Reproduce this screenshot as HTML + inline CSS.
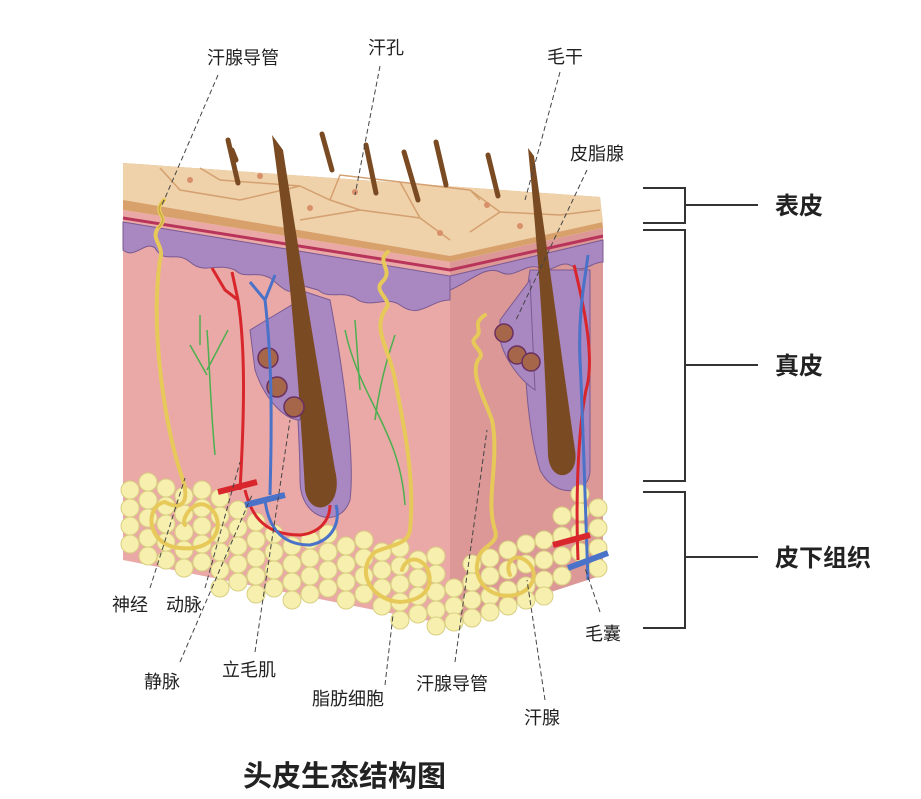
<!DOCTYPE html>
<html><head><meta charset="utf-8">
<style>
html,body{margin:0;padding:0;background:#fff;}
svg{display:block;}
text{font-family:"Liberation Sans","Noto Sans CJK SC",sans-serif;fill:#222;}
</style></head><body>
<svg width="921" height="799" viewBox="0 0 921 799" xmlns="http://www.w3.org/2000/svg">
<!-- dermis front & side -->
<polygon points="123,210 450,262 450,625 123,560" fill="#eaa9a6"/>
<polygon points="450,262 603,228 603,575 450,625" fill="#dc9896"/>
<!-- purple basal layer front -->
<path d="M123,222 L450,276 L450,300 C430,300 420,320 400,305 C385,295 370,310 355,298 C340,290 330,300 318,290 L300,285 C290,300 280,285 270,278 C255,270 245,280 235,270 C215,262 205,275 190,262 C175,250 165,265 155,248 C145,240 135,260 123,250 Z" fill="#a987c0" stroke="#7a5a92" stroke-width="1"/>
<path d="M450,276 L603,240 L603,262 C590,262 585,275 570,265 C560,260 550,275 540,268 C525,262 515,280 500,272 C485,265 470,282 450,290 Z" fill="#a987c0" stroke="#7a5a92" stroke-width="1"/>
<path d="M123,218 L450,270 L603,236" fill="none" stroke="#b8345a" stroke-width="3"/>
<!-- top epidermis -->
<polygon points="123,163 600,197 603,228 450,262 123,210" fill="#d8a16c"/>
<polygon points="123,163 600,197 603,222 450,256 123,200" fill="#efd1aa"/>
<g stroke="#d4a070" stroke-width="1.5" fill="none">
<path d="M160,168 L180,190 L240,200 L300,186 L330,200 L360,210 L420,218 L450,240"/>
<path d="M200,168 L220,180 L300,186 M330,200 L340,175 L400,182 L420,218 M400,182 L470,190 L500,212 L560,215 L600,210 M470,190 L480,200 M300,220 L360,210 M500,212 L470,232"/>
</g>
<g fill="#d8906a"><circle cx="190" cy="180" r="3"/><circle cx="355" cy="192" r="3"/><circle cx="310" cy="208" r="3"/><circle cx="440" cy="233" r="3"/><circle cx="520" cy="226" r="3"/><circle cx="487" cy="205" r="3"/><circle cx="260" cy="176" r="3"/></g>
<!-- follicle sheaths -->
<path d="M300,290 C290,340 300,420 300,480 C300,520 340,530 350,500 C355,460 345,380 330,300 Z" fill="#a987c0" stroke="#7a5a92"/>
<path d="M250,330 L300,300 L300,420 C285,420 265,400 255,370 Z" fill="#a987c0" stroke="#7a5a92"/>
<path d="M530,270 C520,330 525,420 540,470 C555,500 590,495 590,470 L590,270 Z" fill="#a987c0" stroke="#7a5a92"/>
<path d="M500,320 L530,280 L535,390 C520,380 505,360 500,340 Z" fill="#a987c0" stroke="#7a5a92"/>
<!-- fat -->
<g fill="#f6efae" stroke="#d9cf82" stroke-width="1">
<circle cx="130" cy="490" r="9"/><circle cx="148" cy="482" r="9"/><circle cx="166" cy="488" r="9"/><circle cx="130" cy="508" r="9"/><circle cx="148" cy="500" r="9"/><circle cx="166" cy="506" r="9"/><circle cx="184" cy="496" r="9"/><circle cx="202" cy="490" r="9"/><circle cx="220" cy="498" r="9"/><circle cx="130" cy="526" r="9"/><circle cx="148" cy="518" r="9"/><circle cx="166" cy="524" r="9"/><circle cx="184" cy="514" r="9"/><circle cx="202" cy="508" r="9"/><circle cx="220" cy="516" r="9"/><circle cx="238" cy="510" r="9"/><circle cx="130" cy="544" r="9"/><circle cx="148" cy="538" r="9"/><circle cx="166" cy="542" r="9"/><circle cx="184" cy="532" r="9"/><circle cx="202" cy="526" r="9"/><circle cx="220" cy="534" r="9"/><circle cx="238" cy="528" r="9"/><circle cx="256" cy="522" r="9"/><circle cx="148" cy="556" r="9"/><circle cx="166" cy="560" r="9"/><circle cx="184" cy="550" r="9"/><circle cx="202" cy="544" r="9"/><circle cx="220" cy="552" r="9"/><circle cx="238" cy="546" r="9"/><circle cx="256" cy="540" r="9"/><circle cx="274" cy="534" r="9"/><circle cx="184" cy="568" r="9"/><circle cx="202" cy="562" r="9"/><circle cx="220" cy="570" r="9"/><circle cx="238" cy="564" r="9"/><circle cx="256" cy="558" r="9"/><circle cx="274" cy="552" r="9"/><circle cx="292" cy="546" r="9"/><circle cx="310" cy="540" r="9"/><circle cx="328" cy="534" r="9"/><circle cx="220" cy="588" r="9"/><circle cx="238" cy="582" r="9"/><circle cx="256" cy="576" r="9"/><circle cx="274" cy="570" r="9"/><circle cx="292" cy="564" r="9"/><circle cx="310" cy="558" r="9"/><circle cx="328" cy="552" r="9"/><circle cx="346" cy="546" r="9"/><circle cx="364" cy="540" r="9"/><circle cx="256" cy="594" r="9"/><circle cx="274" cy="588" r="9"/><circle cx="292" cy="582" r="9"/><circle cx="310" cy="576" r="9"/><circle cx="328" cy="570" r="9"/><circle cx="346" cy="564" r="9"/><circle cx="364" cy="558" r="9"/><circle cx="382" cy="552" r="9"/><circle cx="400" cy="548" r="9"/><circle cx="292" cy="600" r="9"/><circle cx="310" cy="594" r="9"/><circle cx="328" cy="588" r="9"/><circle cx="346" cy="582" r="9"/><circle cx="364" cy="576" r="9"/><circle cx="382" cy="570" r="9"/><circle cx="400" cy="566" r="9"/><circle cx="418" cy="560" r="9"/><circle cx="436" cy="556" r="9"/><circle cx="346" cy="600" r="9"/><circle cx="364" cy="594" r="9"/><circle cx="382" cy="588" r="9"/><circle cx="400" cy="584" r="9"/><circle cx="418" cy="578" r="9"/><circle cx="436" cy="574" r="9"/><circle cx="382" cy="606" r="9"/><circle cx="400" cy="602" r="9"/><circle cx="418" cy="596" r="9"/><circle cx="436" cy="592" r="9"/><circle cx="454" cy="588" r="9"/><circle cx="400" cy="620" r="9"/><circle cx="418" cy="614" r="9"/><circle cx="436" cy="610" r="9"/><circle cx="454" cy="606" r="9"/><circle cx="436" cy="626" r="9"/><circle cx="454" cy="622" r="9"/><circle cx="472" cy="600" r="9"/><circle cx="490" cy="596" r="9"/><circle cx="508" cy="590" r="9"/><circle cx="526" cy="586" r="9"/><circle cx="544" cy="580" r="9"/><circle cx="472" cy="582" r="9"/><circle cx="490" cy="576" r="9"/><circle cx="508" cy="570" r="9"/><circle cx="526" cy="564" r="9"/><circle cx="544" cy="560" r="9"/><circle cx="562" cy="556" r="9"/><circle cx="472" cy="564" r="9"/><circle cx="490" cy="558" r="9"/><circle cx="508" cy="550" r="9"/><circle cx="526" cy="544" r="9"/><circle cx="544" cy="540" r="9"/><circle cx="562" cy="536" r="9"/><circle cx="580" cy="532" r="9"/><circle cx="598" cy="528" r="9"/><circle cx="472" cy="618" r="9"/><circle cx="490" cy="612" r="9"/><circle cx="508" cy="606" r="9"/><circle cx="526" cy="600" r="9"/><circle cx="544" cy="596" r="9"/><circle cx="562" cy="576" r="9"/><circle cx="580" cy="552" r="9"/><circle cx="598" cy="548" r="9"/><circle cx="562" cy="516" r="9"/><circle cx="580" cy="512" r="9"/><circle cx="598" cy="508" r="9"/><circle cx="598" cy="568" r="9"/><circle cx="580" cy="494" r="9"/>
</g>
<!-- hair shafts -->
<path d="M272,135 L283,150 C300,260 320,380 335,470 C345,510 310,520 305,490 C300,400 290,260 272,135 Z" fill="#7a4a22"/>
<path d="M528,148 L534,156 C550,270 565,380 575,450 C580,480 550,485 548,455 C545,350 538,250 528,148 Z" fill="#7a4a22"/>
<g stroke="#7a4a22" stroke-width="5" stroke-linecap="round">
<line x1="228" y1="140" x2="238" y2="183"/><line x1="322" y1="134" x2="332" y2="170"/><line x1="366" y1="145" x2="376" y2="193"/><line x1="404" y1="152" x2="418" y2="200"/><line x1="436" y1="142" x2="446" y2="185"/><line x1="488" y1="155" x2="498" y2="196"/><line x1="232" y1="150" x2="236" y2="160"/>
</g>
<!-- sebaceous glands -->
<g fill="#a6664a" stroke="#6a3060" stroke-width="1.5">
<circle cx="268" cy="358" r="10"/><circle cx="277" cy="387" r="10"/><circle cx="294" cy="407" r="10"/>
<circle cx="504" cy="333" r="9"/><circle cx="517" cy="355" r="9"/><circle cx="531" cy="362" r="9"/>
</g>
<!-- nerves green -->
<g stroke="#4caf50" stroke-width="1.5" fill="none">
<path d="M215,455 C210,400 210,370 207,330 M207,375 L190,345 M207,370 L228,330 M200,345 L200,315"/>
<path d="M405,505 C400,430 360,400 345,330 M360,390 L355,320 M375,420 C380,380 390,350 395,335"/>
</g>
<!-- vessels -->
<g fill="none" stroke-width="3">
<path d="M240,490 C244,420 246,350 238,300 L225,290 L212,268 M238,300 L232,272" stroke="#d8262c"/>
<path d="M270,495 C272,420 272,360 265,300 L250,282 M265,300 L275,275" stroke="#4a72c8"/>
<path d="M245,490 C250,510 260,535 300,535 C320,533 330,520 330,505" stroke="#d8262c"/>
<path d="M265,500 C268,525 280,545 310,545 C335,540 340,520 336,505" stroke="#4a72c8"/>
<path d="M578,560 C575,480 580,420 586,390 C595,360 585,310 574,265" stroke="#d8262c"/>
<path d="M588,580 C585,500 583,420 580,360 C578,310 585,280 588,255" stroke="#4a72c8"/>
</g>
<g stroke-width="6" stroke-linecap="butt">
<line x1="218" y1="492" x2="257" y2="482" stroke="#d8262c"/><line x1="245" y1="505" x2="285" y2="495" stroke="#4a72c8"/>
<line x1="553" y1="545" x2="590" y2="535" stroke="#d8262c"/><line x1="568" y1="568" x2="608" y2="553" stroke="#4a72c8"/>
</g>
<!-- sweat glands yellow -->
<g fill="none" stroke="#e7c95a" stroke-width="4" stroke-linecap="round">
<path d="M164,200 C150,215 172,215 158,228 C150,240 165,245 160,260 C150,330 165,430 183,480 C190,505 180,510 165,502 C145,505 145,545 180,548 C220,552 225,520 210,508 C195,495 180,520 185,525"/>
<path d="M388,252 C375,262 395,270 382,282 C372,292 395,300 385,310 C372,330 390,350 395,380 C405,430 415,480 410,530 C408,545 390,545 375,552 C355,570 370,600 400,602 C430,600 435,580 425,565 C415,555 405,560 402,570"/>
<path d="M485,315 C470,325 485,330 475,338 C468,345 488,352 478,360 C470,375 485,400 492,420 C500,460 485,500 495,530 C500,545 480,545 478,560 C472,580 490,600 515,595 C535,590 540,570 525,560 C512,552 505,565 510,575"/>
</g>
<g fill="none" stroke="#c4a23a" stroke-width="1">
<path d="M164,200 C150,215 172,215 158,228"/>
</g>
<!-- leader lines -->
<g stroke="#444" stroke-width="1" stroke-dasharray="5,3" fill="none">
<line x1="218" y1="75" x2="162" y2="205"/><line x1="380" y1="66" x2="355" y2="195"/><line x1="560" y1="72" x2="525" y2="200"/>
<line x1="587" y1="170" x2="515" y2="322"/><line x1="150" y1="588" x2="185" y2="478"/><line x1="205" y1="588" x2="240" y2="462"/>
<line x1="180" y1="662" x2="252" y2="495"/><line x1="255" y1="652" x2="290" y2="420"/><line x1="385" y1="685" x2="393" y2="615"/>
<line x1="455" y1="662" x2="487" y2="430"/><line x1="545" y1="700" x2="527" y2="580"/><line x1="600" y1="612" x2="585" y2="568"/>
</g>
<!-- labels -->
<g font-size="18">
<text x="207" y="64">汗腺导管</text><text x="368" y="54">汗孔</text><text x="547" y="63">毛干</text><text x="570" y="160">皮脂腺</text>
<text x="112" y="611">神经</text><text x="166" y="611">动脉</text><text x="144" y="688">静脉</text><text x="222" y="676">立毛肌</text>
<text x="312" y="705">脂肪细胞</text><text x="416" y="690">汗腺导管</text><text x="524" y="724">汗腺</text><text x="585" y="640">毛囊</text>
</g>
<!-- brackets -->
<g stroke="#333" stroke-width="2" fill="none">
<polyline points="643,188 685,188 685,223 643,223"/><line x1="685" y1="205" x2="758" y2="205"/>
<polyline points="643,230 685,230 685,481 643,481"/><line x1="685" y1="365" x2="758" y2="365"/>
<polyline points="643,492 685,492 685,628 643,628"/><line x1="685" y1="557" x2="758" y2="557"/>
</g>
<g font-size="24" font-weight="bold">
<text x="775" y="214">表皮</text><text x="775" y="374">真皮</text><text x="775" y="566">皮下组织</text>
</g>
<text x="243" y="786" font-size="29" font-weight="bold">头皮生态结构图</text>
</svg>
</body></html>
